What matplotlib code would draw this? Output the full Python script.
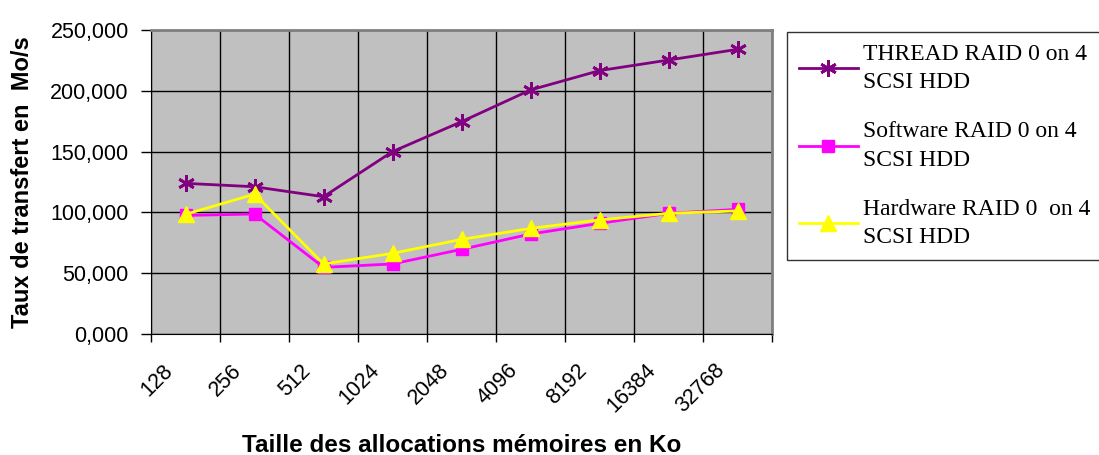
import matplotlib.pyplot as plt
import numpy as np
from matplotlib.ticker import FixedLocator, FuncFormatter
from matplotlib.transforms import ScaledTranslation

plt.rcParams['font.family'] = ['Liberation Sans', 'DejaVu Sans']

# tailles d'allocation (Ko) et debits (Mo/s)
tailles = ["128", "256", "512", "1024", "2048", "4096", "8192", "16384", "32768"]
thread = [123.9, 121.1, 112.9, 150.0, 174.6, 200.7, 216.6, 225.3, 234.1]
software = [97.5, 98.7, 54.8, 57.6, 69.6, 82.2, 91.0, 99.2, 102.5]
hardware = [98.4, 115.0, 57.6, 66.3, 77.8, 86.8, 93.8, 99.2, 101.2]

labels = ["THREAD RAID 0 on 4\nSCSI HDD",
          "Software RAID 0 on 4\nSCSI HDD",
          "Hardware RAID 0  on 4\nSCSI HDD"]

fig = plt.figure(figsize=(10.99, 4.55), dpi=100)
ax = fig.add_axes([151 / 1099, 1 - 334 / 455, (772 - 151) / 1099, (334 - 30) / 455])
ax.set_facecolor("#C0C0C0")

x = np.arange(len(tailles))
l1, = ax.plot(x, thread, color="#800080", lw=2, marker=(6, 2, 0), ms=12,
              mew=2, zorder=3)
l2, = ax.plot(x, software, color="#FF00FF", lw=2, marker="s", ms=9,
              zorder=4)
l3, = ax.plot(x, hardware, color="#FFFF00", lw=2, marker="^", ms=12,
              zorder=5)

ax.set_xlim(-0.5, len(tailles) - 0.5)
ax.set_ylim(0, 250)
ax.set_yticks(np.arange(0, 251, 50))
ax.yaxis.set_major_formatter(FuncFormatter(lambda v, p: "{:,.3f}".format(v).replace(".", ",")))

ax.set_xticks(x)
ax.set_xticklabels(tailles, rotation=45, ha="right", va="center",
                   rotation_mode="anchor")
ax.xaxis.set_minor_locator(FixedLocator(np.arange(-0.5, len(tailles), 1)))
ax.tick_params(axis="x", which="major", length=0, pad=24, labelsize=15.5)
ax.tick_params(axis="x", which="minor", length=6, direction="out", width=1)
ax.tick_params(axis="y", length=7, direction="out", width=1, labelsize=15.5, pad=9)

# decalage des etiquettes comme dans Excel
decal = ScaledTranslation(-0.16, 0, fig.dpi_scale_trans)
for lab in ax.get_xticklabels():
    lab.set_transform(lab.get_transform() + decal)

ax.grid(True, axis="y", which="major", color="black", lw=1)
ax.grid(True, axis="x", which="minor", color="black", lw=1)
ax.set_axisbelow(True)

for s in ["top", "right"]:
    ax.spines[s].set_color("#808080")
    ax.spines[s].set_linewidth(2)
ax.spines["left"].set_color("black")
ax.spines["bottom"].set_color("black")

ax.set_ylabel("Taux de transfert en  Mo/s", fontsize=17, fontweight="bold",
              va="center")
ax.yaxis.set_label_coords((23 - 151) / 621, 0.5)
ax.set_xlabel("Taille des allocations mémoires en Ko", fontsize=17.5,
              fontweight="bold", va="baseline")
ax.xaxis.set_label_coords(0.5, (334 - 452) / 304)

leg = fig.legend([l1, l2, l3], labels, loc="upper left",
                 bbox_to_anchor=(787 / 1099, 1 - 32 / 455),
                 prop={"family": "Liberation Serif", "size": 17},
                 frameon=True, fancybox=False, edgecolor="black",
                 borderaxespad=0, handlelength=2.5, handletextpad=0.2,
                 labelspacing=1.2, borderpad=0.5)
leg.get_frame().set_linewidth(1)
for t in leg.get_texts():
    t.set_linespacing(1.45)

fig.savefig("out.png", dpi=100)
